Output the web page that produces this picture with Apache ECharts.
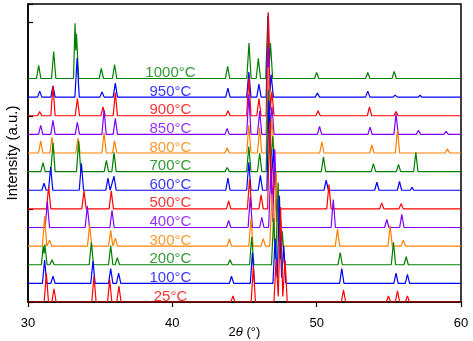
<!DOCTYPE html>
<html><head><meta charset="utf-8">
<script src="https://cdn.jsdelivr.net/npm/echarts@6/dist/echarts.min.js"></script>
<style>html,body{margin:0;padding:0;background:#fff;overflow:hidden}#c{width:473px;height:341px}</style>
</head><body><div id="c"></div>
<script>
const temps = ['25°C','100°C','200°C','300°C','400°C','500°C','600°C','700°C','800°C','850°C','900°C','950°C','1000°C'];
const xTicks = [30, 40, 50, 60];

const s25 = [[30,0],[31.12,0],[31.27,155],[31.42,0],[31.65,0],[31.80,70],[31.95,0],
[34.42,0],[34.57,140],[34.72,0],[35.51,0],[35.66,120],[35.81,0],[36.15,0],[36.30,85],[36.45,0],
[44.05,0],[44.20,32],[44.35,0],[45.46,0],[45.61,190],[45.76,0],
[47.04,0],[47.19,230],[47.34,30],[47.50,510],[47.65,30],[47.81,225],[47.96,0],
[51.71,0],[51.86,65],[52.01,0],[54.82,0],[54.97,32],[55.12,0],[55.45,0],[55.60,60],[55.75,0],[56.14,0],[56.29,32],[56.44,0],[60,0]];

const s100 = [[30,0],[31.00,0],[31.15,125],[31.30,0],[31.58,0],[31.73,38],[31.88,0],
[34.35,0],[34.50,120],[34.65,0],[35.58,0],[35.73,80],[35.88,0],[36.13,0],[36.28,55],[36.43,0],
[43.95,0],[44.10,38],[44.25,0],[45.40,0],[45.55,165],[45.70,0],
[46.97,0],[47.12,240],[47.27,30],[47.42,470],[47.57,30],[47.72,200],[47.87,0],
[51.59,0],[51.74,80],[51.89,0],[55.35,0],[55.50,55],[55.65,0],[56.14,0],[56.29,48],[56.44,0],[60,0]];

const s200 = [[30,0],[30.93,0],[31.05,100],[31.11,60],[31.17,110],[31.32,0],[31.51,0],[31.66,27],[31.81,0],
[34.24,0],[34.39,120],[34.54,0],[35.58,0],[35.73,103],[35.88,0],[36.04,0],[36.19,38],[36.34,0],
[41.50,0],[41.60,8],[41.70,0],[42.20,0],[42.30,8],[42.40,0],
[43.85,0],[44.00,27],[44.15,0],[45.35,0],[45.50,150],[45.65,0],
[46.87,0],[47.02,250],[47.17,30],[47.33,440],[47.48,30],[47.62,180],[47.77,0],
[51.48,0],[51.63,65],[51.78,0],[55.17,0],[55.32,120],[55.47,0],[56.05,0],[56.20,43],[56.35,0],[60,0]];

const s300 = [[30,0],[31.00,0],[31.15,160],[31.30,0],[31.38,0],[31.50,32],[31.64,0],
[34.12,0],[34.27,115],[34.42,0],[35.58,0],[35.73,85],[35.88,0],[35.93,0],[36.05,43],[36.20,0],
[43.80,0],[43.95,38],[44.10,0],[45.30,0],[45.45,150],[45.60,0],[46.15,0],[46.30,40],[46.45,0],
[46.75,0],[46.90,280],[47.05,30],[47.20,400],[47.35,30],[47.50,150],[47.65,0],
[51.29,0],[51.44,92],[51.59,0],[54.94,0],[55.09,110],[55.24,0],[55.85,0],[56.00,32],[56.15,0],[60,0]];

const s400 = [[30,0],[31.19,0],[31.34,140],[31.49,0],[33.96,0],[34.11,115],[34.26,0],[35.67,0],[35.82,92],[35.97,0],
[43.75,0],[43.90,38],[44.05,0],[45.25,0],[45.40,165],[45.55,0],[46.05,0],[46.20,55],[46.35,0],
[46.67,0],[46.82,300],[46.96,30],[47.10,420],[47.25,30],[47.40,130],[47.55,0],
[51.00,0],[51.15,150],[51.30,0],[54.71,0],[54.86,43],[55.01,0],[55.75,0],[55.90,70],[56.05,0],[60,0]];

const s500 = [[30,0],[31.28,0],[31.43,120],[31.58,0],[33.73,0],[33.88,97],[34.03,0],[35.62,0],[35.77,97],[35.92,0],
[38.05,0],[38.10,10],[38.15,0],
[43.75,0],[43.90,43],[44.05,0],[45.20,0],[45.35,160],[45.50,0],[46.00,0],[46.15,75],[46.30,0],
[46.60,0],[46.75,470],[46.90,30],[47.05,240],[47.20,0],
[50.70,0],[50.85,130],[51.00,0],[54.36,0],[54.51,32],[54.66,0],[55.70,0],[55.85,27],[56.00,0],[60,0]];

const s600 = [[30,0],[30.96,0],[31.11,38],[31.26,0],[31.42,0],[31.57,125],[31.72,0],[33.55,0],[33.70,145],[33.85,0],
[35.39,0],[35.54,65],[35.69,0],[35.81,0],[35.96,75],[36.11,0],
[43.70,0],[43.85,65],[44.00,0],[45.15,0],[45.30,150],[45.45,0],[45.95,0],[46.10,80],[46.25,0],
[46.55,0],[46.70,480],[46.85,30],[47.00,220],[47.15,0],
[50.51,0],[50.66,54],[50.81,0],[54.02,0],[54.17,43],[54.32,0],[55.59,0],[55.74,48],[55.89,0],[56.48,0],[56.60,16],[56.72,0],[60,0]];

const s700 = [[30,0],[30.89,0],[31.04,48],[31.19,0],[31.58,0],[31.73,155],[31.88,0],[33.36,0],[33.51,165],[33.66,0],
[35.28,0],[35.43,60],[35.58,0],[35.81,0],[35.96,103],[36.11,0],
[43.65,0],[43.80,22],[43.95,0],[45.15,0],[45.30,135],[45.45,0],[45.90,0],[46.05,100],[46.20,0],
[46.50,0],[46.65,440],[46.80,30],[46.95,190],[47.10,0],
[50.32,0],[50.47,80],[50.62,0],[53.78,0],[53.93,43],[54.08,0],[55.52,0],[55.67,38],[55.82,0],[56.72,0],[56.87,103],[57.02,0],[59.43,0],[59.50,10],[59.57,0],[60,0]];

const s800 = [[30,0],[30.73,0],[30.88,65],[31.03,0],[31.51,0],[31.66,86],[31.81,0],[33.31,0],[33.46,80],[33.61,0],
[35.12,0],[35.27,108],[35.42,0],[35.85,0],[36.00,65],[36.15,0],
[43.65,0],[43.80,27],[43.95,0],[45.15,0],[45.30,150],[45.45,0],[45.90,0],[46.05,135],[46.20,0],
[46.50,0],[46.65,460],[46.78,30],[46.90,190],[47.05,0],
[50.21,0],[50.36,60],[50.51,0],[53.67,0],[53.82,43],[53.97,0],[55.45,0],[55.60,125],[55.75,0],[58.91,0],[59.06,22],[59.21,0],[60,0]];

const s850 = [[30,0],[30.73,0],[30.88,48],[31.03,0],[31.58,0],[31.73,75],[31.88,0],[33.27,0],[33.42,65],[33.57,0],
[35.12,0],[35.27,130],[35.42,0],[35.90,0],[36.05,86],[36.20,0],
[43.65,0],[43.80,32],[43.95,0],[45.15,0],[45.30,215],[45.45,0],[45.90,0],[46.05,125],[46.20,0],
[46.50,0],[46.65,470],[46.78,30],[46.90,150],[47.05,0],
[50.05,0],[50.20,43],[50.35,0],[53.55,0],[53.70,38],[53.85,0],[55.35,0],[55.50,110],[55.65,0],[56.90,0],[57.05,22],[57.20,0],[58.82,0],[58.97,16],[59.12,0],[60,0]];

const s900 = [[30,0],[30.66,0],[30.81,22],[30.96,0],[31.58,0],[31.73,160],[31.88,0],[33.27,0],[33.42,92],[33.57,0],
[35.05,0],[35.20,48],[35.35,0],[35.90,0],[36.05,125],[36.20,0],
[43.70,0],[43.85,27],[44.00,0],[45.15,0],[45.30,205],[45.45,0],[45.85,0],[46.00,92],[46.15,0],
[46.50,0],[46.65,555],[46.78,30],[46.90,130],[47.05,0],
[49.95,0],[50.10,27],[50.25,0],[53.51,0],[53.66,48],[53.81,0],[55.35,0],[55.50,22],[55.65,0],[57.08,0],[57.20,6],[57.32,0],[60,0]];

const s950 = [[30,0],[30.66,0],[30.81,32],[30.96,0],[31.58,0],[31.73,60],[31.88,0],[33.25,0],[33.40,210],[33.55,0],
[34.98,0],[35.13,27],[35.28,0],[35.90,0],[36.05,75],[36.20,0],
[43.70,0],[43.85,48],[44.00,0],[45.15,0],[45.30,135],[45.45,0],[45.85,0],[46.00,70],[46.15,0],
[46.50,0],[46.65,450],[46.76,30],[46.85,120],[47.00,0],
[49.90,0],[50.05,22],[50.20,0],[53.39,0],[53.54,32],[53.69,0],[55.29,0],[55.44,11],[55.59,0],[57.05,0],[57.17,11],[57.29,0],[60,0]];

const s1000 = [[30,0],[30.59,0],[30.74,70],[30.89,0],[31.63,0],[31.78,145],[31.93,0],[33.15,0],[33.26,297],[33.31,150],[33.36,240],[33.51,0],
[34.93,0],[35.08,54],[35.23,0],[35.85,0],[36.00,75],[36.15,0],
[40.45,0],[40.50,8],[40.55,0],[41.00,0],[41.05,6],[41.10,0],
[43.68,0],[43.83,65],[43.98,0],[45.16,0],[45.31,190],[45.46,0],[45.81,0],[45.96,108],[46.11,0],
[46.47,0],[46.62,335],[46.71,60],[46.80,190],[46.95,0],
[49.85,0],[50.00,32],[50.15,0],[53.39,0],[53.54,32],[53.69,0],[55.22,0],[55.37,38],[55.52,0],[60,0]];

const patterns = [s25, s100, s200, s300, s400, s500, s600, s700, s800, s850, s900, s950, s1000];

const colors = ['#ff0000','#0000ff','#008000','#ff8000','#8000ff'];
const OFFSET = 100;
const LABEL_X = 39.87;
const LABEL_DY = 30;
const FONT = 'Liberation Sans, Arial, sans-serif';

const series = [];
for (let i = patterns.length - 1; i >= 0; i--) {
  series.push({
    type: 'line', name: temps[i], showSymbol: false, silent: true, animation: false,
    data: patterns[i].map(p => [p[0], p[1] + OFFSET * i]),
    lineStyle: { width: 1.2, color: colors[i % 5] }
  });
}
series.push({
  type: 'scatter', symbolSize: 0, silent: true, animation: false, z: 5,
  data: temps.map((t, i) => ({
    value: [LABEL_X, OFFSET * i + LABEL_DY],
    label: { show: true, position: 'inside', formatter: t, color: colors[i % 5],
      fontSize: 15, fontFamily: FONT, align: 'center', verticalAlign: 'middle' }
  }))
});

const chart = echarts.init(document.getElementById('c'), null, { renderer: 'canvas', width: 473, height: 341 });
chart.setOption({
  backgroundColor: '#fff',
  animation: false,
  grid: { left: 28, right: 12, top: 4, bottom: 39, show: true, borderColor: '#000', borderWidth: 1.5,
    backgroundColor: 'transparent', containLabel: false, outerBoundsMode: 'none' },
  xAxis: {
    type: 'value', min: xTicks[0], max: xTicks[xTicks.length - 1], interval: 10,
    name: '2{i|θ} (°)', nameLocation: 'middle', nameGap: 24, nameMoveOverlap: false,
    nameTextStyle: { fontSize: 13, color: '#000', fontFamily: FONT, rich: { i: { fontStyle: 'italic', fontSize: 13, fontFamily: FONT, color: '#000' } } },
    axisLine: { lineStyle: { color: '#000', width: 1.5 } },
    axisTick: { inside: false, length: 5, lineStyle: { color: '#000', width: 1.2 } },
    axisLabel: { fontSize: 13, color: '#000', fontFamily: FONT, margin: 15 },
    splitLine: { show: false }
  },
  yAxis: {
    type: 'value', min: 0, max: 1600, interval: 500,
    name: 'Intensity (a.u.)', nameLocation: 'middle', nameGap: 8, nameMoveOverlap: false,
    nameTextStyle: { fontSize: 15, color: '#000', fontFamily: FONT },
    axisLine: { show: true, lineStyle: { color: '#000', width: 1.5 } },
    axisTick: { show: true, inside: true, length: 5, lineStyle: { color: '#000', width: 1.2 } },
    axisLabel: { show: false },
    splitLine: { show: false }
  },
  series: series
});
</script></body></html>
